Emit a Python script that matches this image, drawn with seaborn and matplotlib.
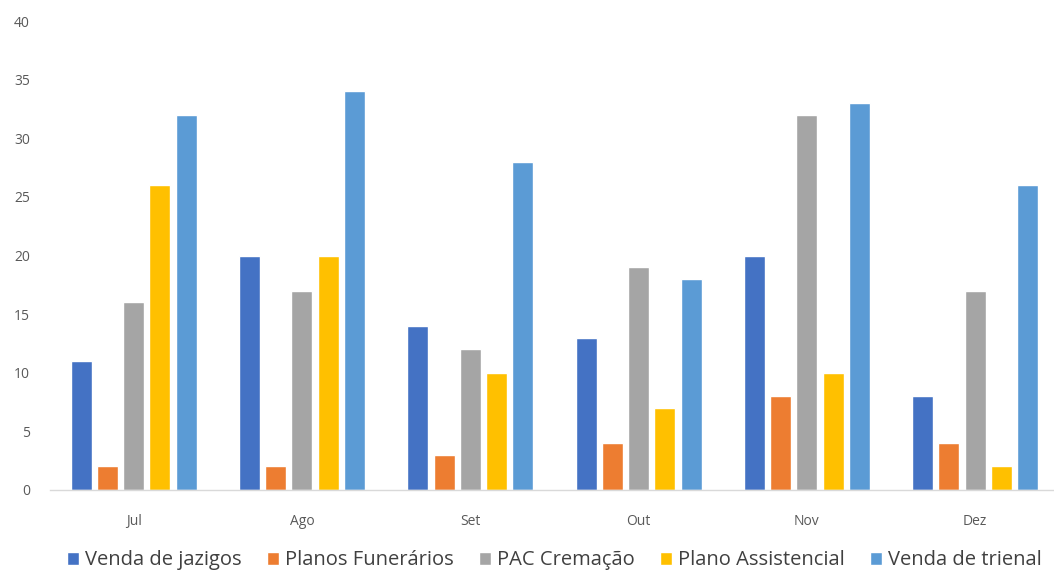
import pandas as pd
import matplotlib.pyplot as plt
import seaborn as sns

# data
months = ['Jul', 'Ago', 'Set', 'Out', 'Nov', 'Dez']
series = ['Venda de jazigos', 'Planos Funerários', 'PAC Cremação',
          'Plano Assistencial', 'Venda de trienal']
venda_jazigos = [11, 20, 14, 13, 20, 8]
planos_funerarios = [2, 2, 3, 4, 8, 4]
pac_cremacao = [16, 17, 12, 19, 32, 17]
plano_assistencial = [26, 20, 10, 7, 10, 2]
venda_trienal = [32, 34, 28, 18, 33, 26]
colors = ['#4472C4', '#ED7D31', '#A5A5A5', '#FFC000', '#5B9BD5']

values = [venda_jazigos, planos_funerarios, pac_cremacao, plano_assistencial, venda_trienal]
rows = []
for name, vals in zip(series, values):
    for m, v in zip(months, vals):
        rows.append({'Mes': m, 'Serie': name, 'Valor': v})
df = pd.DataFrame(rows)

sns.set_style('white')
plt.rcParams['font.family'] = ['Open Sans', 'DejaVu Sans']

fig = plt.figure(figsize=(10.54, 5.71), dpi=100)
ax = fig.add_axes([0.047, 0.142, 0.958, 0.821])

sns.barplot(data=df, x='Mes', y='Valor', hue='Serie', order=months,
            hue_order=series, palette=colors, width=0.78, gap=0.2,
            saturation=1, errorbar=None, ax=ax)

ax.set_ylim(0, 40)
ax.set_xlim(-0.5, 5.5)
ax.set_yticks(range(0, 41, 5))
ax.set_xlabel('')
ax.set_ylabel('')
ax.tick_params(axis='both', length=0, labelsize=10, colors='#595959')
ax.tick_params(axis='y', pad=14)
ax.tick_params(axis='x', pad=17)
for side in ['top', 'right', 'left']:
    ax.spines[side].set_visible(False)
ax.spines['bottom'].set_color('#D9D9D9')
ax.spines['bottom'].set_linewidth(1)

ax.legend(loc='upper center', bbox_to_anchor=(0.5, -0.09), ncol=5,
          frameon=False, fontsize=14.5, handlelength=0.6, handleheight=0.6,
          handletextpad=0.3, columnspacing=1.25, labelcolor='#404040')

plt.savefig('out.png', dpi=100)
